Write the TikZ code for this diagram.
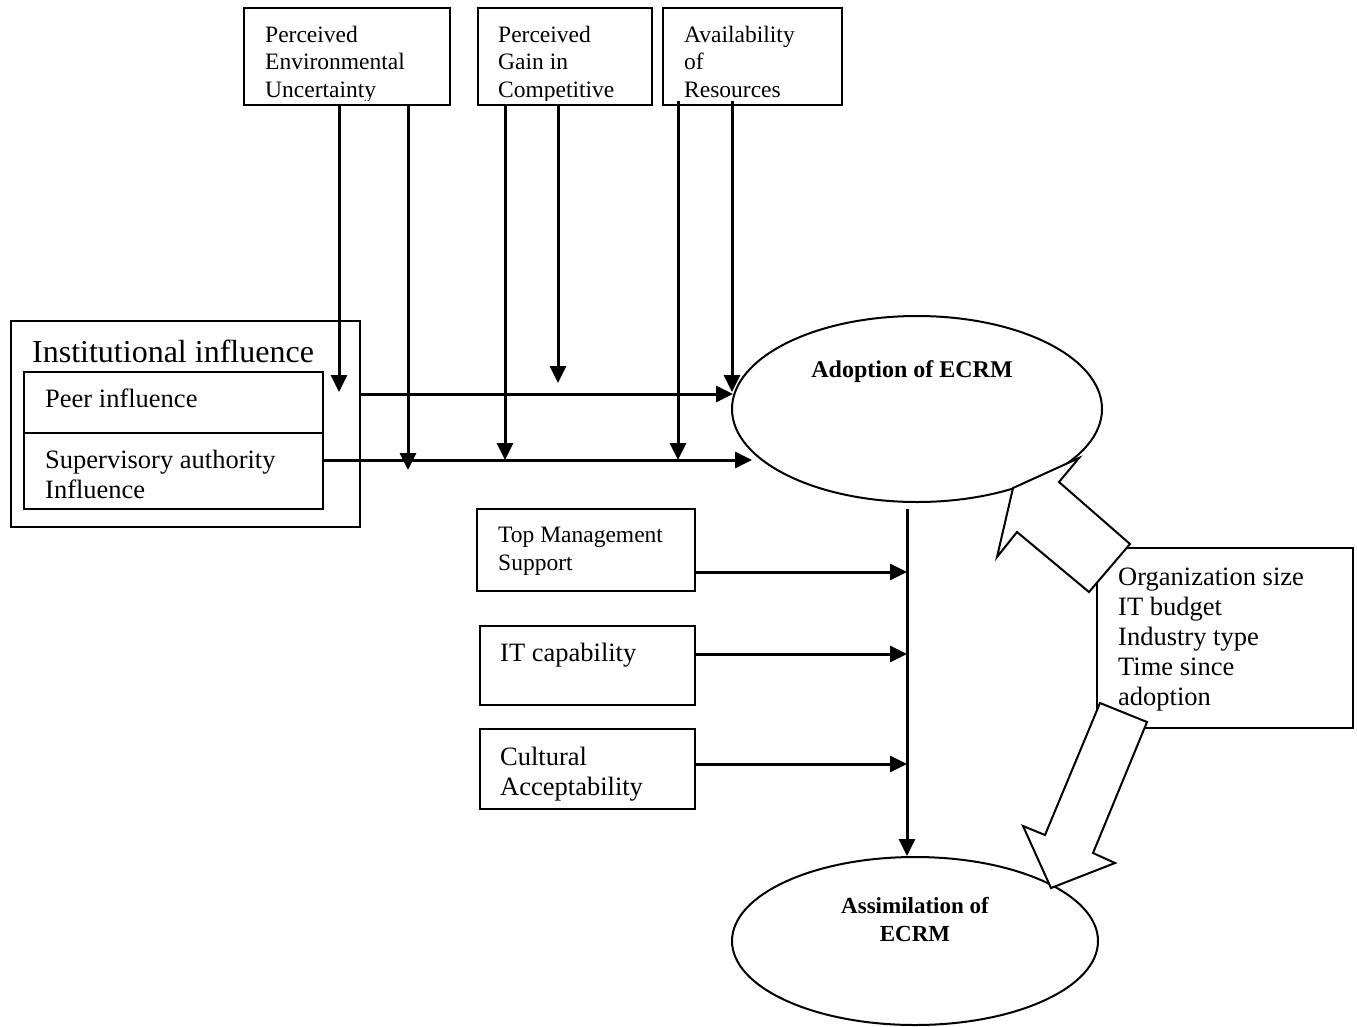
\documentclass[tikz,border=0pt]{standalone}
\usepackage{fontspec}
\setmainfont{Liberation Serif}
\usetikzlibrary{arrows.meta,shapes.geometric}

\tikzset{
    box/.style={draw, line width=2pt, inner sep=0pt},
    oval/.style={draw, ellipse, line width=2pt, inner sep=0pt},
    txt/.style={inner sep=0pt, align=left, anchor=base west, font=\fontsize{26.5}{30}\selectfont},
    smalltxt/.style={txt, font=\fontsize{23.5}{27.5}\selectfont},
    bigtxt/.style={txt, font=\fontsize{32}{36}\selectfont},
    ovaltxt/.style={inner sep=0pt, align=center, anchor=base, font=\bfseries\fontsize{24}{28}\selectfont},
    flow/.style={line width=3pt, -{Triangle[length=17pt,width=16pt]}},
    blockarrow/.style={draw, fill=white, line width=2pt, line join=miter},
}

\begin{document}
\begin{tikzpicture}[x=1pt, y=-1pt]
    \useasboundingbox (0, 0) rectangle (1357, 1026);

    % top boxes
    \node[box, minimum width=206pt, minimum height=97pt] (peu) at (347, 56.5) {};
    \node[box, minimum width=174pt, minimum height=97pt] (pgc) at (565, 56.5) {};
    \node[box, minimum width=179pt, minimum height=97pt] (ar) at (752.5, 56.5) {};
    \begin{scope}
        \clip (244, 8) rectangle (450, 100);
        \node[smalltxt] (peuT) at (265, 97) {Perceived\\Environmental\\Uncertainty};
    \end{scope}
    \begin{scope}
        \clip (478, 8) rectangle (652, 100);
        \node[smalltxt] (pgcT) at (498, 97) {Perceived\\Gain in\\Competitive};
    \end{scope}
    \begin{scope}
        \clip (663, 8) rectangle (842, 100);
        \node[smalltxt] (arT) at (684, 97) {Availability\\of\\Resources};
    \end{scope}

    % institutional influence
    \node[box, minimum width=349pt, minimum height=206pt] (inst) at (185.5, 424) {};
    \node[bigtxt] (instT) at (32, 362) {Institutional influence};
    \node[box, minimum width=299pt, minimum height=61pt] (peer) at (173.5, 402.5) {};
    \node[txt] (peerT) at (45, 407) {Peer influence};
    \node[box, minimum width=299pt, minimum height=76pt] (sup) at (173.5, 471) {};
    \node[txt] (supT) at (45, 498) {Supervisory authority\\Influence};

    % ovals
    \node[oval, minimum width=370pt, minimum height=186pt] (adopt) at (917, 409) {};
    \node[ovaltxt] (adoptT) at (912, 377) {Adoption of ECRM};
    \node[oval, minimum width=366pt, minimum height=168pt] (assim) at (915, 941) {};
    \node[ovaltxt, font=\bfseries\fontsize{23}{28}\selectfont] (assimT) at (915, 941) {Assimilation of\\ECRM};

    % boxes feeding assimilation
    \node[box, minimum width=218pt, minimum height=82pt] (tms) at (586, 550) {};
    \node[smalltxt] (tmsT) at (498, 570) {Top Management\\Support};
    \node[box, minimum width=215pt, minimum height=79pt] (itc) at (587.5, 665.5) {};
    \node[txt] (itcT) at (500, 661) {IT capability};
    \node[box, minimum width=215pt, minimum height=80pt] (cult) at (587.5, 769) {};
    \node[txt] (cultT) at (500, 795) {Cultural\\Acceptability};

    \node[box, minimum width=256pt, minimum height=180pt] (ctrl) at (1225, 638) {};
    \node[txt] (ctrlT) at (1118, 705) {Organization size\\IT budget\\Industry type\\Time since\\adoption};

    % arrow ends
    \coordinate (a1) at (339, 392);
    \coordinate (a2) at (408, 470);
    \coordinate (a3) at (505, 460);
    \coordinate (a4) at (558, 383);
    \coordinate (a5) at (678, 460);
    \coordinate (a6) at (732, 392);
    \coordinate (h1) at (733, 394);
    \coordinate (h2) at (752, 460);
    \coordinate (s1) at (907, 572);
    \coordinate (s2) at (907, 654);
    \coordinate (s3) at (907, 764);

    \draw[flow] (peu.south -| a1) -- (a1);
    \draw[flow] (peu.south -| a2) -- (a2);
    \draw[flow] (pgc.south -| a3) -- (a3);
    \draw[flow] (pgc.south -| a4) -- (a4);
    \draw[flow] ([yshift=5pt]ar.south -| a5) -- (a5);
    \draw[flow] ([yshift=5pt]ar.south -| a6) -- (a6);

    \draw[flow] (inst.east |- h1) -- (h1);
    \draw[flow] (sup.east |- h2) -- (h2);

    \draw[flow] ([shift={(-10, 6)}]adopt.south) -- ([xshift=-8pt]assim.north);
    \draw[flow] (tms.east |- s1) -- (s1);
    \draw[flow] (itc.east |- s2) -- (s2);
    \draw[flow] (cult.east |- s3) -- (s3);

    % block arrows
    \draw[blockarrow] (1013, 488) -- (997, 557) -- (1017, 532) -- (1089, 592) -- (1130, 544)
        -- (1059, 482) -- (1079, 458) -- cycle;
    \draw[blockarrow] (1100, 703) -- (1147, 722) -- (1093, 853) -- (1115, 863) -- (1051, 888)
        -- (1023, 826) -- (1045, 835) -- cycle;
\end{tikzpicture}
\end{document}
